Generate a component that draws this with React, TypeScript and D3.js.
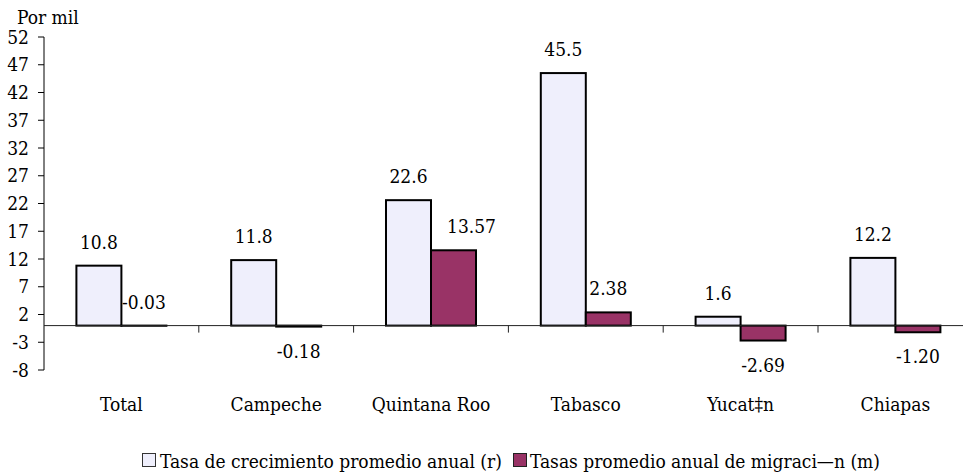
import React from "react";
import * as d3 from "d3";

// Regional rates per thousand inhabitants
const categories = ["Total", "Campeche", "Quintana Roo", "Tabasco", "Yucat‡n", "Chiapas"];
const growthRate = [10.8, 11.8, 22.6, 45.5, 1.6, 12.2];
const migrationRate = [-0.03, -0.18, 13.57, 2.38, -2.69, -1.2];
const growthLabels = ["10.8", "11.8", "22.6", "45.5", "1.6", "12.2"];
const migrationLabels = ["-0.03", "-0.18", "13.57", "2.38", "-2.69", "-1.20"];
const seriesNames = [
  "Tasa de crecimiento promedio anual (r)",
  "Tasas promedio anual de migraci—n (m)",
];
const yTicks = [-8, -3, 2, 7, 12, 17, 22, 27, 32, 37, 42, 47, 52];

const W = 963;
const H = 475;
const FONT = '"DejaVu Serif Condensed", "DejaVu Serif"';
const FILL_R = "#efeffc";
const FILL_M = "#993366";

// label nudges to keep value labels clear of neighbouring bars
const labelNudge: Record<string, number> = { "Quintana Roo": 18 };

const txt = { fontFamily: FONT, fontSize: "19px", fontStretch: "condensed" as const };

export default function App() {
  const plotLeft = 44;
  const step = 154.8;
  const x = d3
    .scaleBand<string>()
    .domain(categories)
    .range([plotLeft, plotLeft + step * categories.length])
    .paddingInner(0.4186)
    .paddingOuter(0.2093);
  const xs = d3.scaleBand<string>().domain(["r", "m"]).range([0, x.bandwidth()]);
  const y = d3.scaleLinear().domain([-8, 52]).range([370, 37]);
  const zero = y(0);

  const series = [
    { key: "r", values: growthRate, labels: growthLabels, fill: FILL_R },
    { key: "m", values: migrationRate, labels: migrationLabels, fill: FILL_M },
  ];

  const boundaries = categories.slice(1).map((c) => (x(c) as number) - (step - x.bandwidth()) / 2);

  return (
    <svg
      width={W}
      height={H}
      style={{ position: "absolute", left: 0, top: 0, background: "#fff", fontFamily: FONT }}
    >
      <text x={17} y={24} style={txt} fill="#000">
        Por mil
      </text>

      {/* y axis */}
      <line x1={plotLeft} x2={plotLeft} y1={y(52)} y2={y(-8)} stroke="#000" strokeWidth={1} />
      {yTicks.map((t) => (
        <g key={t}>
          <line x1={plotLeft - 6} x2={plotLeft} y1={y(t)} y2={y(t)} stroke="#000" strokeWidth={1} />
          <text x={29} y={y(t) + 6.5} style={txt} textAnchor="end" fill="#000">
            {t}
          </text>
        </g>
      ))}

      {/* bars */}
      {series.map((s) =>
        categories.map((c, i) => {
          const v = s.values[i];
          const bx = (x(c) as number) + (xs(s.key) as number);
          const top = y(Math.max(0, v));
          const h = Math.abs(y(v) - zero);
          return (
            <rect
              key={s.key + c}
              x={bx}
              y={top}
              width={xs.bandwidth()}
              height={h}
              fill={s.fill}
              stroke="#000"
              strokeWidth={2}
            />
          );
        })
      )}

      {/* category axis */}
      <line x1={plotLeft} x2={W} y1={zero} y2={zero} stroke="#222" strokeWidth={1} />
      {boundaries.map((bx, i) => (
        <line key={i} x1={bx} x2={bx} y1={zero} y2={zero + 7} stroke="#222" strokeWidth={1} />
      ))}

      {/* value labels */}
      {series.map((s) =>
        categories.map((c, i) => {
          const v = s.values[i];
          const cx = (x(c) as number) + (xs(s.key) as number) + xs.bandwidth() / 2;
          const above = v >= 0 || Math.abs(v) < 0.1;
          const ly = above ? y(Math.max(0, v)) - 17 : y(v) + 31;
          const dx = s.key === "m" ? labelNudge[c] || 0 : 0;
          return (
            <text key={"l" + s.key + c} x={cx + dx} y={ly} style={txt} textAnchor="middle" fill="#000">
              {s.labels[i]}
            </text>
          );
        })
      )}

      {/* category labels */}
      {categories.map((c) => (
        <text
          key={"c" + c}
          x={(x(c) as number) + x.bandwidth() / 2}
          y={411}
          style={txt}
          textAnchor="middle"
          fill="#000"
        >
          {c}
        </text>
      ))}

      {/* legend */}
      <rect x={142.5} y={453.5} width={13} height={13} fill={FILL_R} stroke="#333" strokeWidth={1} />
      <text x={160} y={468} style={txt} fill="#000">
        {seriesNames[0]}
      </text>
      <rect x={513.5} y={453.5} width={13} height={13} fill={FILL_M} stroke="#222" strokeWidth={1} />
      <text x={530} y={468} style={txt} fill="#000">
        {seriesNames[1]}
      </text>
    </svg>
  );
}
